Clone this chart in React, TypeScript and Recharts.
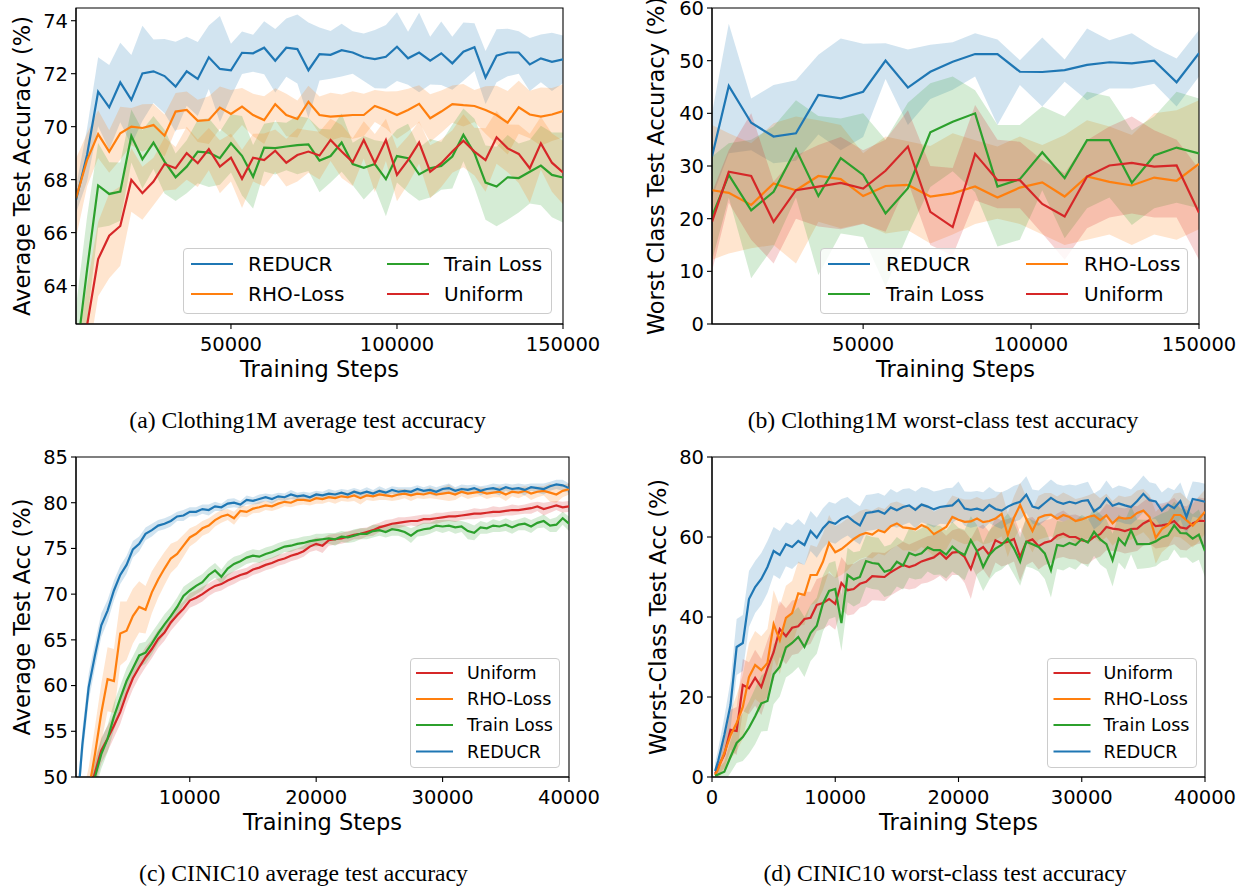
import React from "react";
import { ComposedChart, Area, Line, XAxis, YAxis, ReferenceArea, Label } from "recharts";

const BLUE = "#1f77b4";
const ORANGE = "#ff7f0e";
const GREEN = "#2ca02c";
const RED = "#d62728";
const FONT = "'DejaVu Sans', sans-serif";
const SERIF = "'Liberation Serif', 'Times New Roman', serif";

// ---------- (a) Clothing1M average test accuracy ----------
const aSteps = [
  3333, 6667, 10000, 13333, 16667, 20000, 23333, 26667, 30000, 33333,
  36667, 40000, 43333, 46667, 50000, 53333, 56667, 60000, 63333, 66667,
  70000, 73333, 76667, 80000, 83333, 86667, 90000, 93333, 96667, 100000,
  103333, 106667, 110000, 113333, 116667, 120000, 123333, 126667, 130000, 133333,
  136667, 140000, 143333, 146667, 150000,
];
const aReducr = [
  67.23, 68.93, 71.32, 70.73, 71.67, 71.01, 72.01, 72.09, 71.91, 71.51,
  72.09, 71.8, 72.62, 72.18, 72.13, 72.79, 72.77, 72.98, 72.49, 72.98,
  72.93, 72.13, 72.74, 72.71, 72.89, 72.8, 72.62, 72.55, 72.64, 73.02,
  72.58, 72.8, 72.49, 72.77, 72.39, 72.83, 73.0, 71.86, 72.68, 72.8,
  72.8, 72.35, 72.58, 72.45, 72.54,
];
const aReducrSd = [
  0.5, 1.0, 1.3, 1.6, 1.5, 1.7, 1.8, 1.2, 1.4, 1.7,
  1.3, 1.4, 1.2, 2.0, 1.0, 0.8, 0.7, 1.0, 1.2, 1.1,
  1.3, 1.8, 1.0, 0.9, 1.0, 0.8, 0.9, 1.1, 1.2, 1.3,
  1.0, 1.5, 0.9, 1.2, 1.0, 1.1, 0.9, 1.0, 1.0, 0.9,
  0.8, 1.0, 0.9, 1.1, 0.9,
];
const aRho = [
  67.3, 68.74, 69.72, 69.06, 69.75, 70.0, 69.95, 70.06, 69.66, 70.57,
  70.63, 70.22, 70.25, 70.72, 70.48, 70.76, 70.44, 70.25, 70.85, 70.44,
  70.29, 70.94, 70.44, 70.38, 70.41, 70.44, 70.44, 70.78, 70.63, 70.44,
  70.63, 70.86, 70.32, 70.57, 70.85, 70.81, 70.78, 70.63, 70.44, 70.15,
  70.73, 70.46, 70.38, 70.46, 70.59,
];
const aRhoSd = [
  1.5, 1.0, 0.9, 0.8, 1.0, 0.7, 0.9, 0.8, 0.8, 0.7,
  0.7, 0.8, 0.9, 0.8, 0.9, 0.7, 0.8, 0.9, 0.6, 0.8,
  0.7, 0.6, 0.7, 0.9, 0.8, 0.9, 0.8, 0.6, 0.7, 0.9,
  0.8, 0.7, 0.9, 0.8, 0.7, 0.8, 0.6, 0.9, 1.1, 1.2,
  1.0, 0.9, 1.1, 1.0, 1.0,
];
const aTrain = [
  61.2, 64.6, 67.78, 67.46, 67.55, 69.65, 68.77, 69.4, 68.68, 68.09,
  68.49, 69.06, 69.02, 68.81, 69.37, 68.9, 68.11, 69.21, 69.19, 69.25,
  69.3, 69.33, 68.72, 68.89, 69.4, 68.59, 68.45, 68.59, 68.02, 68.89,
  68.81, 68.2, 68.43, 68.52, 68.87, 69.69, 69.0, 67.89, 67.74, 68.09,
  68.06, 68.3, 68.53, 68.18, 68.08,
];
const aTrainSd = [
  2.0, 2.0, 1.6, 1.2, 1.1, 1.0, 1.1, 1.0, 1.2, 0.9,
  1.0, 1.2, 1.3, 1.0, 1.1, 1.5, 1.2, 0.9, 1.0, 0.9,
  1.1, 1.0, 1.2, 1.0, 1.1, 0.8, 1.2, 0.9, 1.4, 1.0,
  1.3, 1.0, 1.1, 0.9, 1.2, 1.0, 1.3, 1.4, 1.5, 1.6,
  1.3, 1.2, 1.5, 1.6, 1.7,
];
const aUniform = [
  60.0, 62.5, 65.0, 65.88, 66.25, 67.99, 67.49, 67.93, 68.59, 68.43,
  69.0, 68.62, 69.15, 68.49, 68.83, 68.03, 68.83, 68.74, 69.09, 68.64,
  68.93, 69.06, 68.91, 69.5, 69.06, 68.66, 69.5, 68.62, 69.5, 68.18,
  68.74, 69.4, 68.3, 68.62, 69.06, 69.47, 69.06, 68.74, 69.6, 69.18,
  68.97, 68.43, 69.37, 68.64, 68.27,
];
const aUniformSd = [
  1.5, 1.5, 1.4, 1.6, 1.5, 1.2, 1.0, 0.9, 1.0, 0.8,
  1.0, 0.9, 0.8, 1.0, 0.9, 1.1, 0.9, 1.0, 0.8, 0.9,
  1.0, 0.8, 0.9, 0.8, 1.0, 0.9, 0.7, 1.1, 0.8, 1.0,
  0.9, 0.8, 1.0, 0.9, 0.8, 1.0, 0.9, 1.2, 1.0, 0.9,
  1.1, 1.3, 1.0, 1.1, 1.2,
];

// ---------- (b) Clothing1M worst-class test accuracy ----------
const bSteps = [
  5000, 10000, 16667, 23333, 30000, 36667, 43333, 50000, 56667, 63333,
  70000, 76667, 83333, 90000, 96667, 103333, 110000, 116667, 123333, 130000,
  136667, 143333, 150000,
];
const bReducr = [31.8, 45.2, 38.2, 35.6, 36.2, 43.5, 42.85, 44.1, 50.0, 44.9, 47.9, 49.8, 51.26, 51.26, 47.9, 47.85, 48.2, 49.2, 49.7, 49.5, 50.0, 45.9, 51.4];
const bReducrLo = [24, 32.4, 33, 30.5, 31, 36, 33, 35.5, 46.5, 37.8, 42.7, 44.5, 47, 37.8, 45.4, 41.3, 46, 42.5, 44.7, 44.7, 45.6, 41.3, 47];
const bReducrHi = [40, 57, 42.8, 45.4, 46.3, 51.1, 54.2, 53.2, 53.3, 52.1, 53, 53.5, 55.2, 54.0, 50.1, 54.4, 50.2, 56.1, 53.9, 55.2, 52.5, 50.4, 55.8];
const bRho = [25.4, 24.9, 22.6, 26.7, 25.4, 28.1, 27.5, 24.3, 26.2, 26.4, 24.2, 24.8, 26.1, 24.0, 25.9, 26.9, 24.2, 28.0, 27.0, 26.3, 27.8, 27.2, 30.4];
const bRhoLo = [12.2, 13.4, 14.4, 15, 11.5, 19.4, 18.2, 19.1, 17.2, 17.8, 15.3, 17, 19, 20, 19, 17, 15, 16, 17, 15, 17, 16, 18];
const bRhoHi = [37.8, 36.2, 34.3, 38.1, 39.4, 38.7, 37.8, 32.4, 35.6, 34.7, 33.8, 36.2, 34.9, 33.7, 35.6, 34.0, 35.9, 38.7, 37.5, 35.9, 40.0, 40.6, 42.5];
const bTrain = [20.4, 28.3, 21.6, 25.1, 33.2, 24.3, 31.5, 28.3, 21.0, 25.8, 36.4, 38.4, 40.0, 26.1, 27.5, 32.6, 27.7, 34.9, 34.9, 26.8, 32.0, 33.5, 32.4];
const bTrainLo = [12, 24, 8.7, 14.7, 24, 9.3, 17.2, 16.5, 7.1, 17, 26, 29, 25, 14.7, 16, 25.4, 16.3, 22, 24, 18.8, 22, 23, 22];
const bTrainHi = [31.8, 34.3, 35, 37.5, 42.5, 39.5, 39, 40, 35, 42, 45.7, 47, 44.4, 37.8, 37.8, 41.3, 39.4, 44.1, 43.2, 36.8, 39.4, 44.1, 42.8];
const bUniform = [19.4, 28.9, 28.1, 19.4, 25.4, 26.1, 26.8, 25.7, 29.1, 33.7, 21.3, 18.4, 32.3, 27.3, 27.3, 22.8, 20.4, 28.0, 30.1, 30.6, 29.9, 30.1, 21.1];
const bUniformLo = [10, 23, 16, 11.5, 20, 18.5, 18, 19, 17.5, 27, 15, 13, 23.5, 22, 22, 17.2, 12.2, 18.2, 20.2, 21, 20.2, 20.2, 12.2];
const bUniformHi = [25, 33, 40, 27, 32, 34, 35.5, 33, 35, 40.6, 30, 29.6, 41.6, 35, 34.6, 31.1, 28.6, 34.9, 37.5, 39.4, 36.8, 35, 29.5];

// ---------- (c) CINIC10 average test accuracy ----------
const cSteps = [
  1000, 1500, 2000, 2500, 3000, 3500, 4000, 4500, 5000, 5500,
  6000, 6500, 7000, 7500, 8000, 8500, 9000, 9500, 10000, 10500,
  11000, 11500, 12000, 12500, 13000, 13500, 14000, 14500, 15000, 15500,
  16000, 16500, 17000, 17500, 18000, 18500, 19000, 19500, 20000, 20500,
  21000, 21500, 22000, 22500, 23000, 23500, 24000, 24500, 25000, 25500,
  26000, 26500, 27000, 27500, 28000, 28500, 29000, 29500, 30000, 30500,
  31000, 31500, 32000, 32500, 33000, 33500, 34000, 34500, 35000, 35500,
  36000, 36500, 37000, 37500, 38000, 38500, 39000, 39500, 40000,
];
const cUniform = [
  43.5, 45.5, 48.0, 50.5, 52.9, 54.2, 55.6, 57.1, 59.1, 60.8,
  62.0, 63.1, 64.0, 65.1, 65.8, 66.9, 67.7, 68.4, 69.3, 69.6,
  70.0, 70.5, 70.9, 71.1, 71.5, 71.8, 72.1, 72.3, 72.7, 72.9,
  73.2, 73.4, 73.7, 73.9, 74.2, 74.4, 74.7, 75.2, 75.5, 75.3,
  75.9, 76.0, 76.1, 76.3, 76.5, 76.6, 76.8, 77.0, 77.3, 77.5,
  77.7, 77.8, 77.9, 78.0, 78.0, 78.2, 78.2, 78.3, 78.4, 78.5,
  78.5, 78.6, 78.7, 78.8, 78.8, 78.9, 79.0, 79.0, 79.1, 79.2,
  79.2, 79.3, 79.4, 79.6, 79.3, 79.5, 79.7, 79.5, 79.6,
];
const cUniformSd = [
  1.5, 1.5, 1.5, 1.5, 1.4, 1.4, 1.3, 1.3, 1.2, 1.2,
  1.1, 1.1, 1.0, 1.0, 0.9, 0.9, 0.9, 0.8, 0.8, 0.8,
  0.8, 0.7, 0.7, 0.7, 0.7, 0.7, 0.6, 0.6, 0.6, 0.6,
  0.6, 0.6, 0.6, 0.6, 0.6, 0.6, 0.6, 0.6, 0.7, 0.8,
  0.6, 0.6, 0.6, 0.6, 0.5, 0.6, 0.5, 0.6, 0.5, 0.6,
  0.5, 0.6, 0.5, 0.5, 0.6, 0.5, 0.5, 0.6, 0.5, 0.5,
  0.6, 0.5, 0.5, 0.6, 0.5, 0.5, 0.6, 0.5, 0.5, 0.6,
  0.5, 0.5, 0.6, 0.5, 0.7, 0.6, 0.5, 0.6, 0.6,
];
const cRho = [
  44.0, 46.0, 48.5, 52.5, 57.0, 60.7, 60.5, 65.7, 66.0, 67.6,
  68.6, 68.3, 70.2, 71.6, 72.8, 73.9, 74.4, 75.3, 76.2, 76.6,
  77.2, 77.5, 78.1, 78.5, 78.7, 78.3, 79.1, 79.0, 79.35, 79.5,
  79.7, 79.6, 79.9, 80.1, 80.0, 80.3, 80.3, 80.2, 80.5, 80.4,
  80.6, 80.5, 80.7, 80.6, 80.8, 80.5, 80.8, 80.7, 80.9, 80.8,
  80.7, 80.9, 81.0, 80.8, 81.0, 80.9, 81.1, 80.9, 81.0, 81.1,
  80.9, 81.2, 81.0, 81.1, 81.2, 81.0, 81.1, 81.2, 80.9, 81.2,
  81.1, 81.3, 81.0, 81.2, 81.3, 81.1, 80.9, 81.3, 81.5,
];
const cRhoSd = [
  1.5, 2.0, 2.5, 3.0, 3.2, 3.5, 3.5, 3.5, 3.2, 3.0,
  2.8, 2.6, 2.3, 2.0, 1.8, 1.6, 1.4, 1.2, 1.0, 0.9,
  0.8, 0.8, 0.7, 0.7, 0.6, 0.7, 0.6, 0.6, 0.5, 0.6,
  0.5, 0.5, 0.6, 0.5, 0.5, 0.6, 0.5, 0.5, 0.6, 0.5,
  0.5, 0.6, 0.5, 0.5, 0.6, 0.7, 0.5, 0.5, 0.6, 0.5,
  0.5, 0.6, 0.5, 0.6, 0.5, 0.5, 0.6, 0.5, 0.7, 0.9,
  0.6, 0.5, 0.6, 0.5, 0.5, 0.6, 0.5, 0.6, 0.7, 0.5,
  0.6, 0.5, 0.7, 0.6, 0.5, 1.0, 0.9, 0.7, 0.6,
];
const cTrain = [
  44.0, 45.5, 47.5, 50.0, 52.5, 54.2, 56.6, 58.6, 60.5, 61.9,
  63.3, 63.6, 64.6, 65.7, 66.7, 67.6, 68.6, 69.8, 70.4, 70.9,
  71.3, 72.1, 72.6, 71.9, 72.8, 73.3, 73.6, 74.0, 74.2, 74.1,
  74.4, 74.6, 74.9, 75.2, 75.3, 75.5, 75.6, 75.8, 75.9, 76.0,
  76.1, 76.0, 76.3, 76.2, 76.4, 76.6, 76.6, 76.9, 77.0, 76.8,
  77.1, 77.0, 76.8, 76.4, 76.9, 77.1, 77.2, 77.5, 77.4, 77.5,
  77.3, 77.4, 76.9, 76.7, 77.3, 77.2, 77.5, 77.4, 77.6, 77.3,
  77.6, 77.7, 77.4, 77.8, 78.0, 77.5, 77.6, 78.3, 77.7,
];
const cTrainSd = [
  1.5, 1.5, 1.5, 1.6, 1.6, 1.5, 1.5, 1.4, 1.4, 1.3,
  1.3, 1.2, 1.2, 1.1, 1.1, 1.0, 1.0, 1.0, 0.9, 0.9,
  0.9, 0.8, 0.8, 0.8, 0.8, 0.8, 0.7, 0.7, 0.7, 0.7,
  0.7, 0.7, 0.7, 0.6, 0.7, 0.6, 0.7, 0.6, 0.7, 0.6,
  0.6, 0.7, 0.6, 0.6, 0.7, 0.6, 0.6, 0.7, 0.6, 0.6,
  0.7, 0.6, 0.7, 0.8, 0.6, 0.7, 0.6, 0.6, 0.7, 0.6,
  0.7, 0.6, 0.9, 0.8, 0.7, 0.6, 0.7, 0.6, 0.7, 0.7,
  0.6, 0.7, 0.7, 0.6, 0.7, 0.7, 0.8, 0.7, 0.8,
];
const cReducr = [
  45.0, 53.5, 59.8, 63.3, 66.6, 68.2, 70.4, 72.1, 73.2, 74.9,
  75.5, 76.6, 77.0, 77.5, 77.7, 78.0, 78.5, 78.6, 79.0, 79.0,
  79.3, 79.2, 79.6, 79.5, 79.9, 80.0, 79.8, 80.3, 80.2, 80.4,
  80.6, 80.4, 80.7, 80.6, 80.9, 80.7, 80.8, 80.6, 80.9, 80.8,
  81.0, 80.9, 81.1, 80.9, 81.2, 81.0, 81.2, 81.0, 81.3, 81.1,
  81.4, 81.2, 81.3, 81.2, 81.5, 81.3, 81.4, 81.2, 81.5, 81.6,
  81.3, 81.5, 81.4, 81.6, 81.3, 81.5, 81.6, 81.4, 81.7, 81.5,
  81.6, 81.4, 81.7, 81.6, 81.5, 81.8, 82.0, 81.9, 81.6,
];
const cReducrSd = [
  1.5, 1.6, 1.5, 1.4, 1.3, 1.2, 1.1, 1.0, 1.0, 0.9,
  0.8, 0.7, 0.7, 0.6, 0.6, 0.6, 0.5, 0.6, 0.5, 0.5,
  0.5, 0.6, 0.5, 0.4, 0.5, 0.5, 0.4, 0.5, 0.4, 0.5,
  0.4, 0.5, 0.4, 0.4, 0.5, 0.4, 0.4, 0.5, 0.4, 0.4,
  0.5, 0.4, 0.4, 0.5, 0.4, 0.4, 0.5, 0.4, 0.5, 0.4,
  0.4, 0.5, 0.4, 0.5, 0.4, 0.4, 0.5, 0.5, 0.4, 0.5,
  0.4, 0.5, 0.5, 0.4, 0.5, 0.4, 0.5, 0.6, 0.4, 0.5,
  0.5, 0.6, 0.4, 0.5, 0.6, 0.5, 0.5, 0.6, 0.5,
];

// ---------- (d) CINIC10 worst-class test accuracy ----------
const dSteps = [
  250, 500, 1000, 1500, 2000, 2500, 3000, 3500, 4000, 4500,
  5000, 5500, 6000, 6500, 7000, 7500, 8000, 8500, 9000, 9500,
  10000, 10500, 11000, 11500, 12000, 12500, 13000, 13500, 14000, 14500,
  15000, 15500, 16000, 16500, 17000, 17500, 18000, 18500, 19000, 19500,
  20000, 20500, 21000, 21500, 22000, 22500, 23000, 23500, 24000, 24500,
  25000, 25500, 26000, 26500, 27000, 27500, 28000, 28500, 29000, 29500,
  30000, 30500, 31000, 31500, 32000, 32500, 33000, 33500, 34000, 34500,
  35000, 35500, 36000, 36500, 37000, 37500, 38000, 38500, 39000, 39500,
  40000,
];
const dUniform = [
  0.8, 2.5, 5.6, 11.8, 11.5, 23.0, 22.2, 24.8, 22.5, 27.2,
  31.2, 37.0, 35.2, 37.3, 37.7, 39.5, 39.8, 43.0, 43.5, 44.5,
  43.3, 48.5, 46.7, 47.0, 48.3, 48.8, 50.2, 50.1, 50.0, 51.2,
  52.1, 53.0, 52.5, 53.0, 53.9, 54.4, 54.9, 56.1, 54.6, 56.1,
  56.3, 55.0, 52.0, 56.5, 57.5, 55.5, 59.2, 58.4, 58.8, 59.5,
  55.0, 58.8, 59.4, 57.7, 58.6, 59.0, 60.3, 60.8, 60.0, 60.0,
  59.2, 58.8, 60.0, 60.7, 62.5, 62.1, 61.9, 61.5, 62.0, 62.1,
  63.4, 64.2, 62.7, 62.9, 63.2, 64.0, 62.4, 62.1, 63.4, 64.1,
  64.0,
];
const dUniformSd = [
  1.0, 2.0, 3.5, 5.0, 6.0, 6.5, 6.5, 7.0, 7.0, 7.0,
  7.0, 7.0, 7.0, 6.8, 6.8, 6.8, 6.5, 6.5, 6.5, 6.5,
  6.5, 6.5, 6.3, 6.3, 6.0, 6.0, 6.0, 6.0, 6.0, 5.8,
  5.8, 5.8, 5.6, 5.8, 5.6, 5.8, 5.6, 5.8, 5.7, 5.6,
  5.8, 6.5, 7.5, 5.8, 5.6, 5.8, 5.6, 5.8, 5.7, 5.6,
  6.0, 5.8, 5.6, 5.8, 5.6, 5.5, 5.6, 5.8, 5.5, 5.6,
  5.8, 5.6, 5.5, 5.6, 5.8, 5.6, 5.5, 5.6, 5.8, 5.6,
  5.5, 5.8, 5.6, 5.5, 5.6, 5.8, 5.6, 5.5, 5.6, 5.8,
  5.6,
];
const dRho = [
  0.5, 2.0, 6.0, 10.4, 13.5, 17.5, 25.0, 28.0, 26.7, 28.5,
  38.2, 34.2, 39.8, 41.0, 45.9, 45.5, 50.5, 50.5, 53.8, 58.5,
  56.2, 57.0, 58.2, 59.5, 60.5, 61.0, 60.6, 61.7, 61.2, 62.7,
  63.4, 62.4, 62.2, 61.9, 63.0, 62.3, 60.7, 61.6, 62.5, 65.0,
  64.3, 63.8, 63.9, 64.6, 63.7, 64.0, 64.6, 65.8, 60.5, 64.8,
  68.0, 64.5, 61.5, 64.8, 65.4, 65.6, 64.6, 65.5, 65.0, 64.0,
  64.4, 65.0, 65.4, 64.2, 65.4, 63.4, 64.9, 64.6, 64.8, 66.0,
  66.6, 65.0, 59.8, 62.0, 63.0, 65.5, 65.5, 64.2, 62.8, 64.5,
  66.3,
];
const dRhoSd = [
  1.5, 2.5, 4.0, 6.0, 7.0, 8.0, 8.5, 8.5, 8.5, 8.5,
  8.5, 8.5, 8.0, 8.0, 8.0, 7.5, 7.5, 7.0, 7.0, 7.0,
  6.5, 6.5, 6.5, 6.0, 6.0, 6.0, 6.0, 5.8, 5.8, 5.8,
  5.5, 5.8, 5.5, 5.6, 5.5, 5.7, 5.6, 5.5, 5.6, 5.4,
  5.5, 5.6, 5.5, 5.4, 5.6, 5.5, 5.3, 5.6, 5.5, 5.4,
  5.6, 5.5, 5.4, 5.5, 5.6, 5.4, 5.5, 5.6, 5.4, 5.5,
  5.5, 5.4, 5.6, 5.5, 5.4, 5.6, 5.5, 5.4, 5.5, 5.6,
  5.4, 5.5, 6.5, 5.8, 5.5, 5.4, 5.6, 5.5, 5.4, 5.6,
  5.5,
];
const dTrain = [
  0.3, 0.6, 1.3, 5.0, 8.5, 10.0, 12.3, 15.2, 18.4, 19.0,
  25.7, 27.6, 32.4, 33.5, 35.0, 32.5, 36.0, 37.8, 43.4, 46.5,
  47.0, 38.5, 50.5, 49.4, 50.0, 54.0, 53.5, 53.3, 51.3, 51.8,
  53.8, 52.9, 56.0, 55.4, 55.9, 57.4, 56.7, 56.7, 55.6, 57.6,
  56.3, 55.5, 59.2, 56.5, 52.5, 55.5, 57.1, 58.0, 59.6, 57.1,
  53.8, 58.8, 58.2, 57.5, 55.9, 51.7, 58.0, 57.7, 58.5, 58.0,
  59.5, 58.6, 61.3, 59.4, 58.2, 54.2, 59.6, 58.0, 61.7, 58.2,
  58.2, 58.3, 58.9, 59.9, 60.4, 62.9, 61.0, 60.9, 59.6, 60.6,
  56.5,
];
const dTrainSd = [
  0.8, 1.5, 2.5, 4.0, 5.0, 6.0, 6.5, 7.0, 7.0, 7.5,
  7.5, 7.5, 7.5, 7.5, 7.5, 7.5, 7.0, 7.0, 7.0, 7.0,
  7.0, 7.0, 6.8, 6.8, 6.5, 6.5, 6.5, 6.5, 6.3, 6.3,
  6.2, 6.0, 6.2, 6.0, 6.3, 6.0, 6.2, 6.1, 6.0, 6.2,
  6.0, 6.3, 6.0, 6.5, 6.0, 6.2, 6.0, 6.1, 6.3, 6.5,
  6.0, 6.2, 6.0, 6.1, 6.4, 6.8, 6.0, 6.1, 6.0, 6.2,
  6.0, 6.1, 6.0, 6.3, 6.2, 6.6, 6.0, 6.1, 6.0, 6.2,
  6.1, 6.0, 6.2, 6.0, 6.1, 6.0, 6.2, 6.0, 6.1, 6.3,
  6.5,
];
const dReducr = [
  1.5, 4.0, 10.5, 18.0, 32.5, 33.5, 44.5, 47.5, 49.5, 52.5,
  56.5, 55.5, 58.2, 57.5, 59.0, 58.0, 61.5, 59.8, 62.2, 63.8,
  63.3, 64.5, 65.2, 63.9, 62.9, 66.0, 66.2, 66.5, 65.8, 67.4,
  66.7, 67.5, 67.9, 66.8, 68.1, 67.6, 66.9, 67.5, 67.7, 67.9,
  69.3, 67.1, 66.8, 67.1, 66.6, 68.0, 67.0, 66.6, 67.6, 68.3,
  68.8, 70.6, 67.6, 67.2, 68.5, 69.8, 68.8, 68.3, 68.8, 68.4,
  69.0, 69.2, 66.4, 67.5, 69.6, 67.8, 68.4, 67.9, 67.5, 69.0,
  70.8, 69.2, 68.9, 66.6, 68.1, 67.2, 69.0, 65.0, 69.5, 69.2,
  68.8,
];
const dReducrSd = [
  2.0, 3.0, 4.5, 6.0, 7.0, 7.0, 7.0, 6.5, 6.5, 6.5,
  6.0, 6.0, 5.5, 5.5, 5.5, 5.0, 5.0, 5.0, 5.0, 5.0,
  5.0, 5.0, 4.8, 4.8, 4.8, 4.5, 4.5, 4.5, 4.5, 4.6,
  4.4, 4.5, 4.3, 4.6, 4.4, 4.5, 4.5, 4.2, 4.5, 4.4,
  4.6, 4.3, 4.5, 4.4, 4.6, 4.5, 4.4, 4.6, 4.3, 4.5,
  4.5, 4.6, 4.3, 4.4, 4.5, 4.6, 4.4, 4.5, 4.3, 4.5,
  4.4, 4.6, 4.5, 4.4, 4.5, 4.3, 4.5, 4.6, 4.4, 4.5,
  4.6, 4.5, 4.4, 4.5, 4.3, 4.5, 4.6, 4.5, 4.4, 4.5,
  4.5,
];

type Series = { name: string; color: string; fill: string; mean: number[]; lo: number[]; hi: number[] };

const withSd = (name: string, color: string, fill: string, mean: number[], sd: number[]): Series => ({
  name,
  color,
  fill,
  mean,
  lo: mean.map((m, i) => m - sd[i]),
  hi: mean.map((m, i) => m + sd[i]),
});

const seriesA: Series[] = [
  withSd("REDUCR", BLUE, BLUE, aReducr, aReducrSd),
  withSd("RHO-Loss", ORANGE, ORANGE, aRho, aRhoSd),
  withSd("Train Loss", GREEN, GREEN, aTrain, aTrainSd),
  withSd("Uniform", RED, ORANGE, aUniform, aUniformSd),
];
const seriesB: Series[] = [
  { name: "REDUCR", color: BLUE, fill: BLUE, mean: bReducr, lo: bReducrLo, hi: bReducrHi },
  { name: "RHO-Loss", color: ORANGE, fill: ORANGE, mean: bRho, lo: bRhoLo, hi: bRhoHi },
  { name: "Train Loss", color: GREEN, fill: GREEN, mean: bTrain, lo: bTrainLo, hi: bTrainHi },
  { name: "Uniform", color: RED, fill: RED, mean: bUniform, lo: bUniformLo, hi: bUniformHi },
];
const seriesC: Series[] = [
  withSd("Uniform", RED, RED, cUniform, cUniformSd),
  withSd("RHO-Loss", ORANGE, ORANGE, cRho, cRhoSd),
  withSd("Train Loss", GREEN, GREEN, cTrain, cTrainSd),
  withSd("REDUCR", BLUE, BLUE, cReducr, cReducrSd),
];
const seriesD: Series[] = [
  withSd("Uniform", RED, RED, dUniform, dUniformSd),
  withSd("RHO-Loss", ORANGE, ORANGE, dRho, dRhoSd),
  withSd("Train Loss", GREEN, GREEN, dTrain, dTrainSd),
  withSd("REDUCR", BLUE, BLUE, dReducr, dReducrSd),
];

const AXIS_W = 76;
const AXIS_H = 60;

interface PanelProps {
  left: number;
  top: number;
  plotW: number;
  plotH: number;
  padTop: number;
  padRight: number;
  steps: number[];
  series: Series[];
  xDomain: [number, number];
  yDomain: [number, number];
  xTicks: number[];
  yTicks: number[];
  yLabel: string;
  yLabelX: number;
}

function Panel({ left, top, plotW, plotH, padTop, padRight, steps, series, xDomain, yDomain, xTicks, yTicks, yLabel, yLabelX }: PanelProps) {
  const rows = steps.map((x, i) => {
    const r: Record<string, any> = { x };
    series.forEach((s) => {
      r[s.name] = s.mean[i];
      r[s.name + "_band"] = [s.lo[i], s.hi[i]];
    });
    return r;
  });
  const width = AXIS_W + plotW + padRight;
  const height = padTop + plotH + AXIS_H;
  const tickStyle = { fill: "#000", fontSize: 19.5, fontFamily: FONT };
  const stroke = { stroke: "#000", strokeWidth: 1.1 };
  const lx = yLabelX - left;
  const ly = padTop + plotH / 2;

  return (
    <div style={{ position: "absolute", left, top }}>
      <ComposedChart width={width} height={height} data={rows} margin={{ top: padTop, right: padRight, bottom: 0, left: 0 }}>
        <XAxis
          dataKey="x"
          type="number"
          domain={xDomain}
          ticks={xTicks}
          allowDataOverflow
          interval={0}
          height={AXIS_H}
          tick={tickStyle}
          tickLine={stroke}
          axisLine={stroke}
          tickSize={5}
          tickMargin={8}
        >
          <Label
            content={() => (
              <text x={AXIS_W + plotW / 2} y={padTop + plotH + 53} textAnchor="middle" fontSize={22.5} fontFamily={FONT} fill="#000">
                Training Steps
              </text>
            )}
          />
        </XAxis>
        <YAxis
          type="number"
          domain={yDomain}
          ticks={yTicks}
          allowDataOverflow
          interval={0}
          width={AXIS_W}
          tick={tickStyle}
          tickLine={stroke}
          axisLine={stroke}
          tickSize={5}
          tickMargin={3}
        >
          <Label
            content={() => (
              <text
                x={lx}
                y={ly}
                transform={`rotate(-90 ${lx} ${ly})`}
                textAnchor="middle"
                dominantBaseline="central"
                fontSize={22.5}
                fontFamily={FONT}
                fill="#000"
              >
                {yLabel}
              </text>
            )}
          />
        </YAxis>
        {series.map((s) => (
          <Area
            key={s.name + "-band"}
            dataKey={s.name + "_band"}
            type="linear"
            stroke="none"
            fill={s.fill}
            fillOpacity={0.2}
            dot={false}
            activeDot={false}
            isAnimationActive={false}
          />
        ))}
        {series.map((s) => (
          <Line
            key={s.name}
            dataKey={s.name}
            type="linear"
            stroke={s.color}
            strokeWidth={2.2}
            dot={false}
            activeDot={false}
            isAnimationActive={false}
          />
        ))}
        <ReferenceArea x1={xDomain[0]} x2={xDomain[1]} y1={yDomain[0]} y2={yDomain[1]} fill="none" stroke="#000" strokeWidth={1.1} />
      </ComposedChart>
    </div>
  );
}

interface LegendItem {
  name: string;
  color: string;
  col: number;
  row: number;
}

function LegendBox({ left, top, width, height, fontSize, handle, textDx, cols, rows, items }: {
  left: number; top: number; width: number; height: number; fontSize: number; handle: number; textDx: number;
  cols: number[]; rows: number[]; items: LegendItem[];
}) {
  return (
    <div
      style={{
        position: "absolute",
        left,
        top,
        width,
        height,
        boxSizing: "border-box",
        border: "1px solid #cccccc",
        borderRadius: 4,
        background: "rgba(255,255,255,0.8)",
      }}
    >
      <svg width={width} height={height} style={{ position: "absolute", left: -1, top: -1 }}>
        {items.map((it) => (
          <g key={it.name}>
            <line x1={cols[it.col]} x2={cols[it.col] + handle} y1={rows[it.row]} y2={rows[it.row]} stroke={it.color} strokeWidth={2.2} />
            <text x={cols[it.col] + textDx} y={rows[it.row]} dominantBaseline="central" fontSize={fontSize} fontFamily={FONT} fill="#000">
              {it.name}
            </text>
          </g>
        ))}
      </svg>
    </div>
  );
}

function Caption({ cx, cy, text }: { cx: number; cy: number; text: string }) {
  return (
    <div
      style={{
        position: "absolute",
        left: cx - 300,
        top: cy - 15,
        width: 600,
        lineHeight: "30px",
        textAlign: "center",
        fontSize: 23.7,
        fontFamily: SERIF,
        color: "#000",
        whiteSpace: "nowrap",
      }}
    >
      {text}
    </div>
  );
}

export default function App() {
  return (
    <div style={{ position: "absolute", left: 0, top: 0, width: 1255, height: 890, background: "#fff", overflow: "hidden" }}>
      <Panel
        left={0}
        top={0}
        plotW={487}
        plotH={316}
        padTop={8}
        padRight={45}
        steps={aSteps}
        series={seriesA}
        xDomain={[3333, 150000]}
        yDomain={[62.55, 74.48]}
        xTicks={[50000, 100000, 150000]}
        yTicks={[64, 66, 68, 70, 72, 74]}
        yLabel="Average Test Accuracy (%)"
        yLabelX={21.5}
      />
      <Panel
        left={636.3}
        top={0}
        plotW={487}
        plotH={316}
        padTop={8}
        padRight={50}
        steps={bSteps}
        series={seriesB}
        xDomain={[5000, 150000]}
        yDomain={[0, 60]}
        xTicks={[50000, 100000, 150000]}
        yTicks={[0, 10, 20, 30, 40, 50, 60]}
        yLabel="Worst Class Test Accuracy (%)"
        yLabelX={656.5}
      />
      <Panel
        left={0}
        top={446.7}
        plotW={493}
        plotH={320}
        padTop={10}
        padRight={45}
        steps={cSteps}
        series={seriesC}
        xDomain={[1000, 40000]}
        yDomain={[50, 85]}
        xTicks={[10000, 20000, 30000, 40000]}
        yTicks={[50, 55, 60, 65, 70, 75, 80, 85]}
        yLabel="Average Test Acc (%)"
        yLabelX={21.5}
      />
      <Panel
        left={636.3}
        top={446.7}
        plotW={493}
        plotH={320}
        padTop={10}
        padRight={45}
        steps={dSteps}
        series={seriesD}
        xDomain={[0, 40000]}
        yDomain={[0, 80]}
        xTicks={[0, 10000, 20000, 30000, 40000]}
        yTicks={[0, 20, 40, 60, 80]}
        yLabel="Worst-Class Test Acc (%)"
        yLabelX={658}
      />

      <LegendBox
        left={183}
        top={248}
        width={369}
        height={66}
        fontSize={20}
        handle={42}
        textDx={57}
        cols={[8, 204]}
        rows={[16, 46]}
        items={[
          { name: "REDUCR", color: BLUE, col: 0, row: 0 },
          { name: "RHO-Loss", color: ORANGE, col: 0, row: 1 },
          { name: "Train Loss", color: GREEN, col: 1, row: 0 },
          { name: "Uniform", color: RED, col: 1, row: 1 },
        ]}
      />
      <LegendBox
        left={820}
        top={248}
        width={368}
        height={66}
        fontSize={20}
        handle={42}
        textDx={58}
        cols={[8, 206]}
        rows={[16, 46]}
        items={[
          { name: "REDUCR", color: BLUE, col: 0, row: 0 },
          { name: "Train Loss", color: GREEN, col: 0, row: 1 },
          { name: "RHO-Loss", color: ORANGE, col: 1, row: 0 },
          { name: "Uniform", color: RED, col: 1, row: 1 },
        ]}
      />
      <LegendBox
        left={410}
        top={658}
        width={150}
        height={110}
        fontSize={17.5}
        handle={37}
        textDx={51}
        cols={[6]}
        rows={[15, 41, 67, 93.5]}
        items={[
          { name: "Uniform", color: RED, col: 0, row: 0 },
          { name: "RHO-Loss", color: ORANGE, col: 0, row: 1 },
          { name: "Train Loss", color: GREEN, col: 0, row: 2 },
          { name: "REDUCR", color: BLUE, col: 0, row: 3 },
        ]}
      />
      <LegendBox
        left={1047}
        top={658}
        width={150}
        height={110}
        fontSize={17.5}
        handle={37}
        textDx={50}
        cols={[6.5]}
        rows={[15, 41, 67, 93.5]}
        items={[
          { name: "Uniform", color: RED, col: 0, row: 0 },
          { name: "RHO-Loss", color: ORANGE, col: 0, row: 1 },
          { name: "Train Loss", color: GREEN, col: 0, row: 2 },
          { name: "REDUCR", color: BLUE, col: 0, row: 3 },
        ]}
      />

      <Caption cx={307.5} cy={420} text="(a) Clothing1M average test accuracy" />
      <Caption cx={943} cy={420} text="(b) Clothing1M worst-class test accuracy" />
      <Caption cx={303.5} cy={873} text="(c) CINIC10 average test accuracy" />
      <Caption cx={945} cy={873} text="(d) CINIC10 worst-class test accuracy" />
    </div>
  );
}
